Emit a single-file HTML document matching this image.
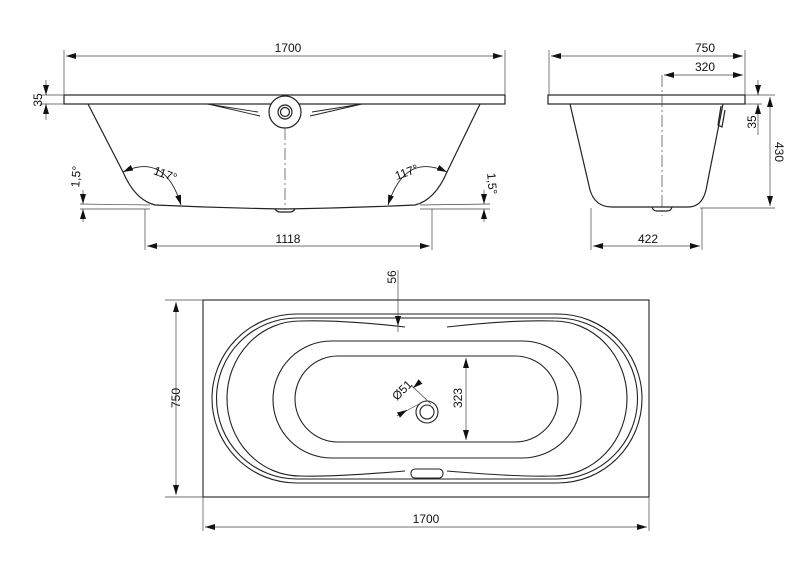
<!DOCTYPE html>
<html><head><meta charset="utf-8"><style>
html,body{margin:0;padding:0;background:#fff}
svg{display:block}
text{font-family:"Liberation Sans",Arial,sans-serif;font-size:12px;fill:#111}
</style></head><body>
<svg width="800" height="565" viewBox="0 0 800 565" xmlns="http://www.w3.org/2000/svg">
<defs>
<marker id="a" viewBox="0 0 10 6" refX="10" refY="3" markerWidth="10" markerHeight="6" orient="auto-start-reverse" markerUnits="userSpaceOnUse"><path d="M0,0L10,3L0,6z" fill="#111"/></marker>
</defs>
<g fill="none" stroke="#222" stroke-width="1.2">
<rect x="64" y="95" width="441" height="9"/>
<path d="M88,104 L123,172 Q135,200 155,205 Q220,208 285,209 Q350,208 415,205 Q435,200 447,172 L480,104"/>
<path d="M207,104 L258,112 M362,104 L312,112 M208,104 L260,116 M362,104 L310,116" stroke-width="0.9"/>
<circle cx="285" cy="112" r="16" fill="#fff"/>
<circle cx="285" cy="112" r="7"/><circle cx="285" cy="112" r="4.5"/>
<path d="M275,209 q2,3 5,3 h10 q3,0 5,-3"/>
<path d="M123,172 Q165,152 181,205" stroke-width="0.9" marker-start="url(#a)" marker-end="url(#a)"/>
<path d="M447,172 Q405,152 388,205" stroke-width="0.9" marker-start="url(#a)" marker-end="url(#a)"/>
</g>
<g stroke="#444" stroke-width="0.7" fill="none">
<line x1="64" y1="50" x2="64" y2="95"/><line x1="505" y1="50" x2="505" y2="95"/>
<line x1="66" y1="56" x2="503" y2="56" marker-start="url(#a)" marker-end="url(#a)"/>
<line x1="40" y1="95" x2="64" y2="95"/><line x1="40" y1="104" x2="64" y2="104"/>
<line x1="46" y1="80" x2="46" y2="95" marker-end="url(#a)"/><line x1="46" y1="120" x2="46" y2="104" marker-end="url(#a)"/>
<line x1="285" y1="128" x2="285" y2="209" stroke-dasharray="12,3,2,3"/>
<line x1="80" y1="204" x2="150" y2="205"/><line x1="80" y1="209" x2="150" y2="209"/>
<line x1="490" y1="204" x2="420" y2="205"/><line x1="490" y1="209" x2="420" y2="209"/>
<line x1="83" y1="190" x2="83" y2="204" marker-end="url(#a)"/><line x1="83" y1="222" x2="83" y2="209" marker-end="url(#a)"/>
<line x1="484" y1="190" x2="484" y2="204" marker-end="url(#a)"/><line x1="484" y1="222" x2="484" y2="209" marker-end="url(#a)"/>
<line x1="145" y1="209" x2="145" y2="250"/><line x1="432" y1="209" x2="432" y2="250"/>
<line x1="147" y1="246" x2="430" y2="246" marker-start="url(#a)" marker-end="url(#a)"/>
</g>
<text x="288" y="52" text-anchor="middle">1700</text>
<text transform="translate(42,100) rotate(-90)" text-anchor="middle">35</text>
<text x="288" y="243" text-anchor="middle">1118</text>
<text transform="translate(164,178) rotate(20)" text-anchor="middle">117°</text>
<text transform="translate(408,176) rotate(-20)" text-anchor="middle">117°</text>
<text transform="translate(80,177) rotate(-85)" text-anchor="middle">1,5°</text>
<text transform="translate(488,184) rotate(85)" text-anchor="middle">1,5°</text>

<g fill="none" stroke="#222" stroke-width="1.2">
<rect x="548" y="95" width="197" height="9"/>
<path d="M570,104 L590,190 Q595,207 612,207 L688,207 Q702,207 706,190 L723,104"/>
<path d="M721,106 L718,125 L722,127 L725,110"/>
<path d="M652,207 q1,4 5,4 h10 q4,0 5,-4"/>
</g>
<g stroke="#444" stroke-width="0.7" fill="none">
<line x1="549" y1="50" x2="549" y2="95"/><line x1="745" y1="50" x2="745" y2="95"/>
<line x1="551" y1="56" x2="743" y2="56" marker-start="url(#a)" marker-end="url(#a)"/>
<line x1="664" y1="75" x2="743" y2="75" marker-start="url(#a)" marker-end="url(#a)"/>
<line x1="662" y1="75" x2="662" y2="216" stroke-dasharray="12,3,2,3"/>
<line x1="745" y1="95" x2="775" y2="95"/><line x1="745" y1="104" x2="762" y2="104"/><line x1="700" y1="208" x2="775" y2="208"/>
<line x1="758" y1="80" x2="758" y2="95" marker-end="url(#a)"/><line x1="758" y1="135" x2="758" y2="104" marker-end="url(#a)"/>
<line x1="770" y1="97" x2="770" y2="206" marker-start="url(#a)" marker-end="url(#a)"/>
<line x1="591" y1="208" x2="591" y2="250"/><line x1="702" y1="208" x2="702" y2="250"/>
<line x1="593" y1="246" x2="700" y2="246" marker-start="url(#a)" marker-end="url(#a)"/>
</g>
<text x="705" y="52" text-anchor="middle">750</text>
<text x="705" y="71" text-anchor="middle">320</text>
<text transform="translate(756,122) rotate(-90)" text-anchor="middle">35</text>
<text transform="translate(775,152) rotate(90)" text-anchor="middle">430</text>
<text x="648" y="243" text-anchor="middle">422</text>

<g fill="none" stroke="#222" stroke-width="1.1">
<rect x="203" y="300" width="446" height="197"/>
<rect x="212" y="314" width="430" height="169" rx="84.5" ry="84.5"/>
<path d="M297,318 L557,318 A80.5,80.5 0 0 1 557,479 L297,479 A80.5,80.5 0 0 1 297,318 Z"/>
<path d="M405,327 C370,323 330,320 300,321 A73,77.5 0 0 0 300,476 C330,477 370,474 405,471"/>
<path d="M447,327 C482,323 522,320 554,321 A73,77.5 0 0 1 554,476 C522,477 482,474 447,471"/>
<rect x="273" y="341" width="308" height="117" rx="58.5" ry="58.5"/>
<rect x="295" y="356" width="263" height="86" rx="43" ry="43"/>
<circle cx="427" cy="412" r="11"/><circle cx="427" cy="412" r="7"/>
<rect x="411" y="469" width="32" height="9" rx="4"/>
</g>
<g stroke="#444" stroke-width="0.7" fill="none">
<line x1="165" y1="300" x2="203" y2="300"/><line x1="165" y1="497" x2="203" y2="497"/>
<line x1="176" y1="302" x2="176" y2="495" marker-start="url(#a)" marker-end="url(#a)"/>
<line x1="203" y1="497" x2="203" y2="531"/><line x1="649" y1="497" x2="649" y2="531"/>
<line x1="205" y1="527" x2="647" y2="527" marker-start="url(#a)" marker-end="url(#a)"/>
<line x1="398" y1="270" x2="398" y2="326" marker-end="url(#a)"/><line x1="398" y1="326" x2="398" y2="332"/>
<line x1="466" y1="358" x2="466" y2="440" marker-start="url(#a)" marker-end="url(#a)"/>
<line x1="397" y1="416" x2="419" y2="404"/><line x1="412" y1="386" x2="431" y2="404"/>
<line x1="397" y1="416" x2="407" y2="410" marker-end="url(#a)"/><line x1="420" y1="382" x2="413" y2="388" marker-end="url(#a)"/>
</g>
<text transform="translate(180,398) rotate(-90)" text-anchor="middle">750</text>
<text x="426" y="523" text-anchor="middle">1700</text>
<text transform="translate(396,277) rotate(-90)" text-anchor="middle">56</text>
<text transform="translate(462,398) rotate(-90)" text-anchor="middle">323</text>
<text transform="translate(405,393) rotate(-45)" text-anchor="middle">Ø51</text>
</svg>
</body></html>
